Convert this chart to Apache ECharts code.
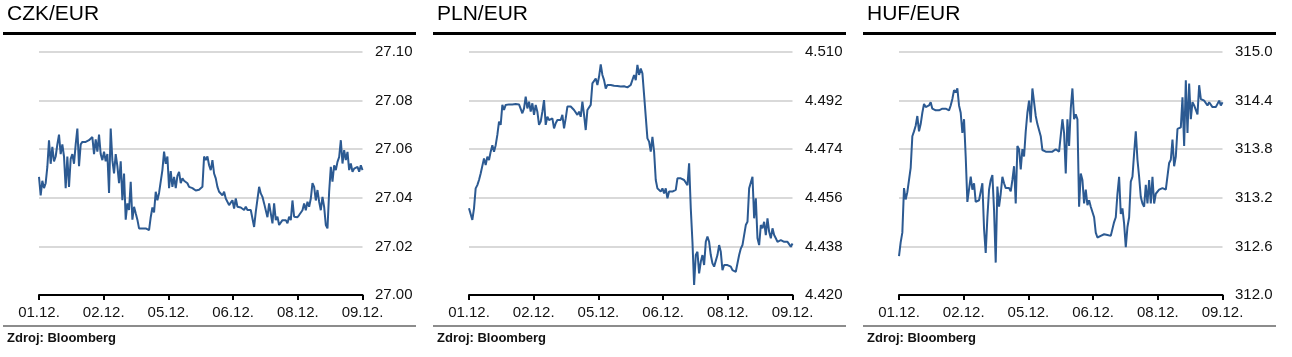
<!DOCTYPE html>
<html>
<head>
<meta charset="utf-8">
<script src="https://cdn.jsdelivr.net/npm/echarts@6/dist/echarts.min.js"></script>
<style>
html,body{margin:0;padding:0;background:#fff;}
#c{width:1292px;height:357px;}
</style>
</head>
<body>
<div id="c"></div>
<script>
const titles = ['CZK/EUR', 'PLN/EUR', 'HUF/EUR'];
const sourceText = 'Zdroj: Bloomberg';
const xTickLabels = ['01.12.', '02.12.', '05.12.', '06.12.', '08.12.', '09.12.'];

const czkTicks = [27.00, 27.02, 27.04, 27.06, 27.08, 27.10];
const plnTicks = [4.420, 4.438, 4.456, 4.474, 4.492, 4.510];
const hufTicks = [312.0, 312.6, 313.2, 313.8, 314.4, 315.0];

const czk = [
27.0486,27.041,27.047,27.044,27.046,27.0527,27.0637,27.054,27.061,27.055,
27.057,27.062,27.066,27.058,27.062,27.057,27.044,27.057,27.0445,27.056,
27.058,27.054,27.062,27.0685,27.053,27.062,27.063,27.063,27.063,27.063,
27.0637,27.064,27.065,27.058,27.064,27.059,27.066,27.058,27.0555,27.059,
27.055,27.058,27.042,27.0685,27.0555,27.05,27.058,27.053,27.046,27.055,
27.039,27.05,27.031,27.0377,27.035,27.0466,27.031,27.0363,27.0336,27.031,
27.0274,27.0274,27.0274,27.0274,27.0274,27.027,27.0267,27.032,27.036,27.034,
27.0425,27.039,27.042,27.0425,27.0514,27.059,27.054,27.057,27.044,27.051,
27.0445,27.0486,27.044,27.049,27.0507,27.046,27.048,27.047,27.0466,27.046,
27.0445,27.0445,27.044,27.0435,27.043,27.043,27.0433,27.043,27.0445,27.057,
27.0555,27.057,27.0534,27.0514,27.0555,27.05,27.048,27.0445,27.0425,27.043,
27.041,27.0425,27.0397,27.039,27.037,27.038,27.039,27.0356,27.0397,27.0363,
27.037,27.036,27.0356,27.035,27.0363,27.035,27.0342,27.035,27.0356,27.028,
27.0342,27.035,27.0445,27.0418,27.0404,27.0377,27.0384,27.032,27.0377,27.0336,
27.0295,27.0377,27.0308,27.0322,27.0288,27.0281,27.0308,27.0301,27.0308,27.0295,
27.0322,27.0308,27.0389,27.0322,27.0315,27.032,27.0329,27.033,27.0349,27.0377,
27.0349,27.0384,27.0363,27.0397,27.046,27.0445,27.0389,27.0432,27.0384,27.0349,
27.0404,27.0363,27.0288,27.0274,27.0425,27.0527,27.0466,27.0534,27.0514,27.0548,
27.0568,27.0637,27.0541,27.0596,27.0555,27.0589,27.0514,27.0541,27.0507,27.052,
27.0514,27.0527,27.0507,27.0534,27.0514
];

const pln = [
4.4521,4.4515,4.4478,4.4521,4.4595,4.4607,4.4626,4.465,4.4657,4.4706,
4.4681,4.4712,4.47,4.4731,4.4755,4.4731,4.4755,4.4793,4.4842,4.483,
4.4904,4.4885,4.4904,4.4906,4.4906,4.4906,4.4906,4.4907,4.4907,4.4906,
4.4906,4.4904,4.4873,4.4891,4.4935,4.4891,4.4916,4.4879,4.491,4.4867,
4.4904,4.4879,4.483,4.4842,4.4879,4.4922,4.483,4.486,4.4848,4.4842,
4.4854,4.4817,4.4836,4.4848,4.4854,4.4848,4.4867,4.4817,4.4854,4.4898,
4.4898,4.4898,4.4891,4.4885,4.4879,4.4867,4.4879,4.486,4.4916,4.4867,
4.4811,4.4885,4.4891,4.4904,4.4984,4.4978,4.5002,4.4978,4.5009,4.5054,
4.5015,4.4996,4.4965,4.4978,4.498,4.4978,4.4978,4.4975,4.4974,4.4974,
4.4974,4.4972,4.4972,4.4973,4.4973,4.4969,4.4968,4.4978,4.4972,4.5015,
4.4996,4.5052,4.5015,4.5039,4.5021,4.4941,4.4935,4.478,4.4768,4.4731,
4.4786,4.4731,4.4626,4.4595,4.4601,4.4583,4.4595,4.4576,4.4595,4.4558,
4.4583,4.458,4.4583,4.4576,4.4589,4.4632,4.4635,4.4632,4.4636,4.4626,
4.4632,4.4607,4.4688,4.4521,4.4397,4.4237,4.4348,4.436,4.428,4.4323,
4.4348,4.4311,4.4397,4.4416,4.4397,4.4348,4.4317,4.4305,4.4298,4.4348,
4.4385,4.436,4.4292,4.4311,4.4311,4.4311,4.4317,4.4305,4.4292,4.4298,
4.4286,4.428,4.4348,4.4372,4.4385,4.4379,4.4459,4.4471,4.4595,4.4601,
4.4638,4.4484,4.4558,4.441,4.4385,4.4459,4.4447,4.4471,4.4422,4.4484,
4.4434,4.441,4.4447,4.4422,4.441,4.4397,4.4403,4.4403,4.44,4.4397,
4.4397,4.4397,4.439,4.4379,4.4391
];

const huf = [
312.48,312.65,312.77,313.32,313.18,313.27,313.25,313.57,313.96,314.02,
314.09,314.21,314.02,314.11,314.25,314.36,314.32,314.34,314.34,314.38,
314.30,314.28,314.28,314.28,314.28,314.29,314.30,314.30,314.30,314.32,
314.28,314.34,314.42,314.53,314.50,314.55,314.34,314.25,314.00,314.17,
313.71,313.15,313.13,313.46,313.30,313.38,313.15,313.15,313.17,313.15,
313.38,312.82,312.52,312.96,313.30,313.42,313.48,313.05,312.40,313.34,
313.09,313.25,313.46,313.38,313.32,313.32,313.32,313.28,313.42,313.59,
313.13,313.84,313.80,313.55,313.80,313.71,314.02,314.25,314.40,314.13,
314.55,314.57,314.21,314.11,314.09,313.96,313.79,313.81,313.77,313.75,
313.77,313.78,313.77,313.79,313.80,313.81,313.77,313.79,314.17,314.00,
313.50,314.17,313.84,314.30,314.55,314.17,314.23,314.17,313.09,313.50,
313.42,313.13,313.30,313.11,313.17,313.09,313.11,312.96,312.77,312.71,
312.73,312.73,312.73,312.75,312.73,312.74,312.74,312.73,312.73,312.90,
312.96,313.25,313.46,313.00,313.07,312.88,312.59,312.84,312.96,313.40,
313.46,313.75,314.02,313.67,313.46,313.21,313.13,313.09,313.36,313.13,
313.42,313.13,313.46,313.13,313.25,313.27,313.30,313.32,313.32,313.34,
313.30,313.30,313.63,313.67,313.92,313.59,313.71,314.05,314.05,314.07,
314.44,313.84,314.65,314.00,314.61,314.17,314.38,314.34,314.32,314.23,
314.59,314.42,314.40,314.40,314.38,314.34,314.38,314.36,314.32,314.34,
314.32,314.36,314.40,314.34,314.38
];

const panels = [
  {data: czk, ticks: czkTicks, dec: 2},
  {data: pln, ticks: plnTicks, dec: 3},
  {data: huf, ticks: hufTicks, dec: 1}
];

const FONT = '"Liberation Sans", Arial, Helvetica, sans-serif';
const LINE_COLOR = '#2c5a92';
const PANEL_W = 430;

function toPairs(arr) {
  const span = xTickLabels.length - 1;
  return arr.map((v, i) => [i * span / (arr.length - 1), v]);
}

const grids = [], xAxes = [], yAxes = [], series = [], graphics = [];
panels.forEach((p, i) => {
  const o = PANEL_W * i;
  grids.push({left: 39 + o, top: 52, width: 323.5, height: 243, containLabel: false});
  xAxes.push({
    type: 'value', gridIndex: i, min: 0, max: xTickLabels.length - 1, interval: 1,
    axisLine: {show: true, onZero: false, lineStyle: {color: '#000', width: 2}},
    axisTick: {show: true, length: 5, lineStyle: {color: '#000', width: 2}},
    axisLabel: {
      show: true, margin: 10, fontSize: 15, color: '#111', fontFamily: FONT,
      showMinLabel: true, showMaxLabel: true,
      formatter: v => xTickLabels[Math.round(v)] || ''
    },
    splitLine: {show: false}
  });
  yAxes.push({
    type: 'value', gridIndex: i, position: 'right',
    min: p.ticks[0], max: p.ticks[p.ticks.length - 1],
    axisLine: {show: false},
    axisTick: {show: false, customValues: p.ticks},
    axisLabel: {
      show: true, customValues: p.ticks, align: 'right', margin: 50,
      fontSize: 15, color: '#111', fontFamily: FONT,
      formatter: v => Number(v).toFixed(p.dec)
    },
    splitLine: {show: true, lineStyle: {color: '#d9d9d9', width: 2}}
  });
  series.push({
    type: 'line', xAxisIndex: i, yAxisIndex: i, data: toPairs(p.data),
    showSymbol: false, symbol: 'none', smooth: false,
    lineStyle: {color: LINE_COLOR, width: 2}, animation: false, z: 3
  });
  graphics.push(
    {type: 'text', left: 7 + o, top: 4, style: {text: titles[i], font: '21px ' + FONT, fill: '#000'}},
    {type: 'rect', shape: {x: 3 + o, y: 32, width: 413, height: 3}, style: {fill: '#000'}},
    {type: 'rect', shape: {x: 3 + o, y: 325, width: 413, height: 2}, style: {fill: '#8c8c8c'}},
    {type: 'text', left: 7 + o, top: 332, style: {text: sourceText, font: 'bold 13px ' + FONT, fill: '#111'}}
  );
});

const chart = echarts.init(document.getElementById('c'), null, {renderer: 'canvas'});
chart.setOption({
  animation: false,
  backgroundColor: '#fff',
  grid: grids, xAxis: xAxes, yAxis: yAxes, series: series,
  graphic: graphics
});
</script>
</body>
</html>
